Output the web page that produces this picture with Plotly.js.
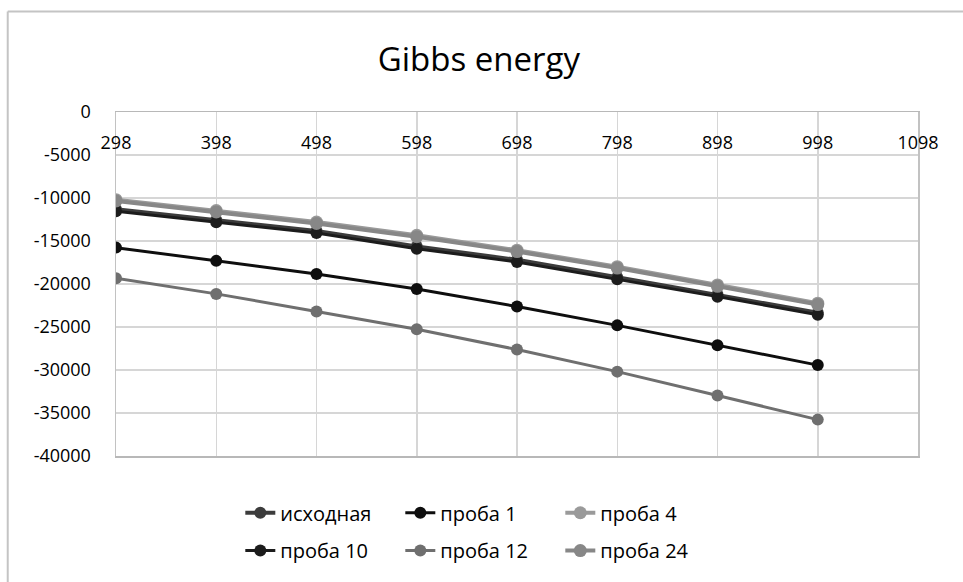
<!DOCTYPE html>
<html>
<head>
<meta charset="utf-8">
<script src="https://cdn.plot.ly/plotly-3.0.1.min.js"></script>
<style>html,body{margin:0;padding:0;background:#fff;}#chart{width:963px;height:582px;}</style>
</head>
<body>
<div id="chart"></div>
<script>
// Temperatures (x) and Gibbs energy values
var temps = [298, 398, 498, 598, 698, 798, 898, 998];
var xTicks = [298, 398, 498, 598, 698, 798, 898, 998, 1098];
var yTicks = [0, -5000, -10000, -15000, -20000, -25000, -30000, -35000, -40000];

var seriesNames = ["исходная", "проба 1", "проба 4", "проба 10", "проба 12", "проба 24"];
var ishodnaya = [-11300, -12570, -13840, -15650, -17190, -19220, -21230, -23340];
var proba1    = [-15770, -17310, -18840, -20580, -22620, -24810, -27120, -29430];
var proba4    = [-10190, -11460, -12800, -14340, -16070, -17990, -20110, -22230];
var proba10   = [-11540, -12810, -14080, -15890, -17430, -19460, -21470, -23580];
var proba12   = [-19340, -21150, -23190, -25270, -27620, -30190, -32960, -35770];
var proba24   = [-10350, -11620, -12960, -14500, -16230, -18150, -20270, -22390];

var seriesValues = [ishodnaya, proba1, proba4, proba10, proba12, proba24];
var colors = ["#3c3c3c", "#0e0e0e", "#9a9a9a", "#1c1c1c", "#6f6f6f", "#878787"];
var widths = [4, 3, 4, 3, 3, 4];
var msizes = [12, 12, 13, 12, 12, 13];
var legendOf = ["legend", "legend", "legend", "legend2", "legend2", "legend2"];

var traces = seriesNames.map(function (name, i) {
  return {
    type: "scatter",
    mode: "lines+markers",
    name: name,
    x: temps,
    y: seriesValues[i],
    line: {color: colors[i], width: widths[i]},
    marker: {color: colors[i], size: msizes[i]},
    legend: legendOf[i]
  };
});

var tickFont = {family: "Open Sans, sans-serif", size: 18, color: "#000"};
var legFont = {family: "Open Sans, sans-serif", size: 20, color: "#000"};

var layout = {
  width: 963,
  height: 582,
  paper_bgcolor: "#fff",
  plot_bgcolor: "#fff",
  margin: {l: 116, r: 45, t: 112, b: 123},
  title: {
    text: "Gibbs energy",
    font: {family: "Open Sans, sans-serif", size: 33, color: "#000"},
    x: 0.4525, xref: "paper", xanchor: "center",
    y: 0.897, yref: "container", yanchor: "middle"
  },
  xaxis: {
    range: [298, 1098],
    tickmode: "array",
    tickvals: xTicks,
    ticktext: xTicks.map(String),
    side: "top",
    ticklabelposition: "inside",
    ticklabeloverflow: "allow",
    ticklabelstandoff: 25,
    ticks: "",
    showgrid: true,
    gridcolor: "#d6d6d6",
    gridwidth: 1.5,
    showline: true,
    mirror: true,
    linecolor: "#b8b8b8",
    linewidth: 1.5,
    zeroline: false,
    tickfont: tickFont,
    fixedrange: true
  },
  yaxis: {
    range: [-40000, 0],
    tickmode: "array",
    tickvals: yTicks,
    ticktext: yTicks.map(String),
    ticks: "",
    ticklabelstandoff: 20,
    showgrid: true,
    gridcolor: "#d6d6d6",
    gridwidth: 1.5,
    showline: true,
    mirror: true,
    linecolor: "#c2c2c2",
    linewidth: 1.5,
    zeroline: false,
    tickfont: tickFont,
    fixedrange: true
  },
  showlegend: true,
  legend: {
    orientation: "h",
    x: 0.155, xanchor: "left",
    y: -0.165, yanchor: "middle",
    entrywidth: 115, entrywidthmode: "pixels",
    font: legFont,
    bgcolor: "rgba(0,0,0,0)"
  },
  legend2: {
    orientation: "h",
    x: 0.155, xanchor: "left",
    y: -0.275, yanchor: "middle",
    entrywidth: 115, entrywidthmode: "pixels",
    font: legFont,
    bgcolor: "rgba(0,0,0,0)"
  },
  shapes: [
    {type: "line", xref: "paper", yref: "paper", x0: -0.135, x1: 1.1, y0: 1.292, y1: 1.292,
     line: {color: "#c4c4c4", width: 2}},
    {type: "line", xref: "paper", yref: "paper", x0: -0.135, x1: -0.135, y0: 1.292, y1: -0.4,
     line: {color: "#c4c4c4", width: 2}}
  ]
};

Plotly.newPlot("chart", traces, layout, {displayModeBar: false, staticPlot: true});
</script>
</body>
</html>
